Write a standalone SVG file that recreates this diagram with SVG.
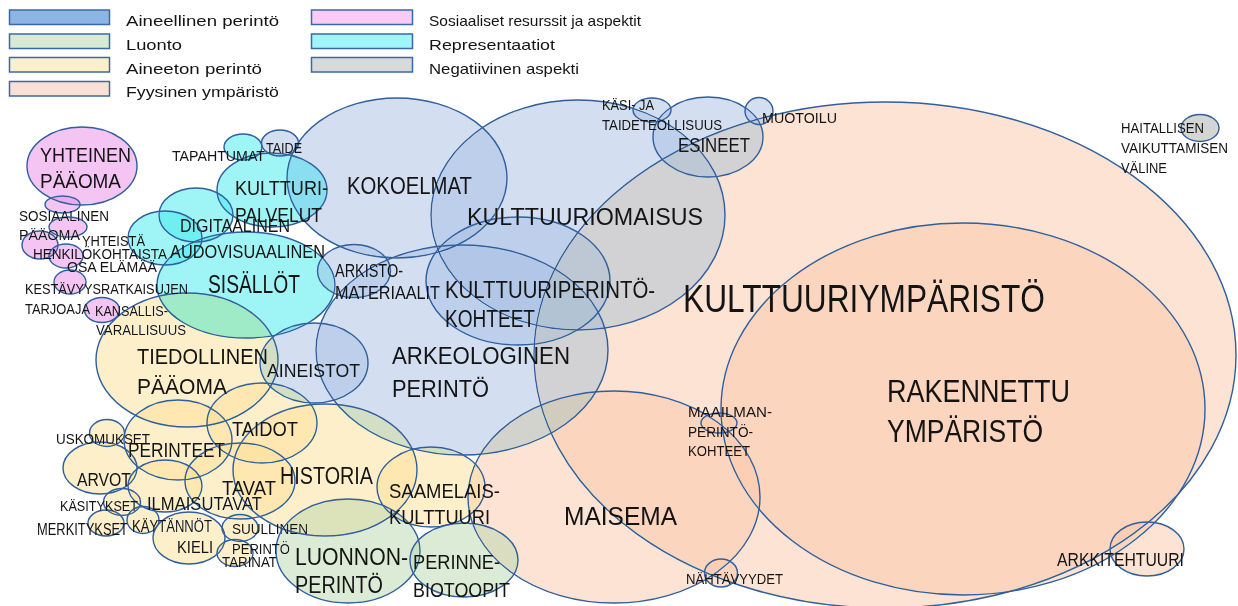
<svg xmlns="http://www.w3.org/2000/svg" width="1238" height="606" viewBox="0 0 1238 606">
<style>
.e{stroke:#2f5f9c;stroke-width:1.4;fill-opacity:0.5;mix-blend-mode:darken}
.pe{fill:#fbc7a9}.bl{fill:#a7bfe3}.cy{fill:#3fe9ed}.pk{fill:#e989e7}.ye{fill:#fddf97}.gr{fill:#b9d7ab}.gy{fill:#ababab}
text{font-family:"Liberation Sans Narrow","Liberation Sans",Arial,sans-serif;fill:#141414}
.lg{stroke:#3a6aa6;stroke-width:1.5}
</style>
<rect x="0" y="0" width="1238" height="606" fill="#ffffff"/>
<g id="legend">
<rect class="lg" x="9.5" y="10" width="100" height="14.5" fill="#8db4e2"/>
<rect class="lg" x="9.5" y="34" width="100" height="14.5" fill="#d9ead3"/>
<rect class="lg" x="9.5" y="57.5" width="100" height="14.5" fill="#fdf0c9"/>
<rect class="lg" x="9.5" y="81.5" width="100" height="14.5" fill="#fce1d2"/>
<rect class="lg" x="311.5" y="10" width="101" height="14.5" fill="#f9cbf6"/>
<rect class="lg" x="311.5" y="34" width="101" height="14.5" fill="#9ff5f7"/>
<rect class="lg" x="311.5" y="57.5" width="101" height="14.5" fill="#d9d9d9"/>
<text x="126" y="26" font-size="15" textLength="153" lengthAdjust="spacingAndGlyphs">Aineellinen perintö</text>
<text x="126" y="50" font-size="15" textLength="56" lengthAdjust="spacingAndGlyphs">Luonto</text>
<text x="126" y="73.5" font-size="15" textLength="136" lengthAdjust="spacingAndGlyphs">Aineeton perintö</text>
<text x="126" y="97" font-size="15" textLength="153" lengthAdjust="spacingAndGlyphs">Fyysinen ympäristö</text>
<text x="429" y="26" font-size="15" textLength="212" lengthAdjust="spacingAndGlyphs">Sosiaaliset resurssit ja aspektit</text>
<text x="429" y="50" font-size="15" textLength="126" lengthAdjust="spacingAndGlyphs">Representaatiot</text>
<text x="429" y="73.5" font-size="15" textLength="150" lengthAdjust="spacingAndGlyphs">Negatiivinen aspekti</text>
</g>
<g id="n-kulttuuriymparisto">
<ellipse class="e pe" cx="885" cy="355" rx="351" ry="253"/>
<text x="683" y="312" font-size="39" textLength="362" lengthAdjust="spacingAndGlyphs">KULTTUURIYMPÄRISTÖ</text>
</g>
<g id="n-rakennettu">
<ellipse class="e pe" cx="963" cy="409" rx="242" ry="186"/>
<text x="887" y="402" font-size="31" textLength="183" lengthAdjust="spacingAndGlyphs">RAKENNETTU</text>
<text x="887" y="442" font-size="31" textLength="156" lengthAdjust="spacingAndGlyphs">YMPÄRISTÖ</text>
</g>
<g id="n-kulttuuriomaisuus">
<ellipse class="e bl" cx="578" cy="215" rx="147" ry="115"/>
<text x="467" y="225" font-size="24.5" textLength="236" lengthAdjust="spacingAndGlyphs">KULTTUURIOMAISUS</text>
</g>
<g id="n-kokoelmat">
<ellipse class="e bl" cx="397" cy="178" rx="110" ry="80"/>
<text x="347" y="194" font-size="23.5" textLength="125" lengthAdjust="spacingAndGlyphs">KOKOELMAT</text>
</g>
<g id="n-arkeologinen">
<ellipse class="e bl" cx="462" cy="350" rx="146" ry="105"/>
<text x="392" y="364" font-size="23.5" textLength="178" lengthAdjust="spacingAndGlyphs">ARKEOLOGINEN</text>
<text x="392" y="397" font-size="23.5" textLength="97" lengthAdjust="spacingAndGlyphs">PERINTÖ</text>
</g>
<g id="n-kulttuuriperintokohteet">
<ellipse class="e bl" cx="518" cy="281" rx="92" ry="64"/>
<text x="445" y="298" font-size="23" textLength="210" lengthAdjust="spacingAndGlyphs">KULTTUURIPERINTÖ-</text>
<text x="445" y="327" font-size="23" textLength="90" lengthAdjust="spacingAndGlyphs">KOHTEET</text>
</g>
<g id="n-esineet">
<ellipse class="e bl" cx="708" cy="137" rx="55" ry="40"/>
<text x="678" y="152" font-size="21" textLength="72" lengthAdjust="spacingAndGlyphs">ESINEET</text>
</g>
<g id="n-kasi-ja-taideteollisuus">
<ellipse class="e bl" cx="652" cy="110" rx="19" ry="12"/>
<text x="602" y="110" font-size="14" textLength="52" lengthAdjust="spacingAndGlyphs">KÄSI- JA</text>
<text x="602" y="130" font-size="14" textLength="120" lengthAdjust="spacingAndGlyphs">TAIDETEOLLISUUS</text>
</g>
<g id="n-muotoilu">
<ellipse class="e bl" cx="759" cy="111" rx="14" ry="13.5"/>
<text x="762" y="123" font-size="14.5" textLength="75" lengthAdjust="spacingAndGlyphs">MUOTOILU</text>
</g>
<g id="n-aineistot">
<ellipse class="e bl" cx="314" cy="363" rx="54" ry="40"/>
<text x="267" y="377" font-size="19" textLength="93" lengthAdjust="spacingAndGlyphs">AINEISTOT</text>
</g>
<g id="n-maisema">
<ellipse class="e pe" cx="614" cy="497" rx="146" ry="106"/>
<text x="564" y="525" font-size="25" textLength="113" lengthAdjust="spacingAndGlyphs">MAISEMA</text>
</g>
<g id="n-maailmanperintokohteet">
<ellipse class="e pe" cx="719" cy="423" rx="18" ry="10"/>
<text x="688" y="417" font-size="15.5" textLength="84" lengthAdjust="spacingAndGlyphs">MAAILMAN-</text>
<text x="688" y="437" font-size="15.5" textLength="65" lengthAdjust="spacingAndGlyphs">PERINTÖ-</text>
<text x="688" y="456" font-size="15.5" textLength="62" lengthAdjust="spacingAndGlyphs">KOHTEET</text>
</g>
<g id="n-nahtavyydet">
<ellipse class="e pe" cx="721" cy="573" rx="16.5" ry="14"/>
<text x="686" y="584" font-size="15.5" textLength="97" lengthAdjust="spacingAndGlyphs">NÄHTÄVYYDET</text>
</g>
<g id="n-arkkitehtuuri">
<ellipse class="e pe" cx="1147" cy="549" rx="37" ry="27"/>
<text x="1057" y="566" font-size="18" textLength="127" lengthAdjust="spacingAndGlyphs">ARKKITEHTUURI</text>
</g>
<g id="n-sisallot">
<ellipse class="e cy" cx="246" cy="285" rx="89" ry="53"/>
<text x="208" y="293" font-size="25" textLength="92" lengthAdjust="spacingAndGlyphs">SISÄLLÖT</text>
</g>
<g id="n-kulttuuripalvelut">
<ellipse class="e cy" cx="272" cy="190" rx="55" ry="37"/>
<text x="235" y="195" font-size="21" textLength="93" lengthAdjust="spacingAndGlyphs">KULTTURI-</text>
<text x="235" y="222" font-size="21" textLength="87" lengthAdjust="spacingAndGlyphs">PALVELUT</text>
</g>
<g id="n-digitaalinen">
<ellipse class="e cy" cx="196" cy="215" rx="37" ry="27"/>
<text x="180" y="232" font-size="18" textLength="110" lengthAdjust="spacingAndGlyphs">DIGITAALINEN</text>
</g>
<g id="n-audovisuaalinen">
<ellipse class="e cy" cx="165" cy="238" rx="37" ry="27"/>
<text x="170" y="258" font-size="18" textLength="155" lengthAdjust="spacingAndGlyphs">AUDOVISUAALINEN</text>
</g>
<g id="n-tapahtumat">
<ellipse class="e cy" cx="243" cy="147" rx="19" ry="13"/>
<text x="172" y="161" font-size="14.5" textLength="93" lengthAdjust="spacingAndGlyphs">TAPAHTUMAT</text>
</g>
<g id="n-taide">
<ellipse class="e bl" cx="280" cy="143" rx="18.5" ry="13"/>
<text x="266" y="153" font-size="14.5" textLength="36" lengthAdjust="spacingAndGlyphs">TAIDE</text>
</g>
<g id="n-arkistomateriaalit">
<ellipse class="e bl" cx="354" cy="271" rx="36.5" ry="26.5"/>
<text x="335" y="277" font-size="17.5" textLength="68" lengthAdjust="spacingAndGlyphs">ARKISTO-</text>
<text x="335" y="299" font-size="17.5" textLength="105" lengthAdjust="spacingAndGlyphs">MATERIAALIT</text>
</g>
<g id="n-yhteinen-paaoma">
<ellipse class="e pk" cx="82" cy="166" rx="55" ry="39"/>
<text x="40" y="162" font-size="21" textLength="91" lengthAdjust="spacingAndGlyphs">YHTEINEN</text>
<text x="40" y="188" font-size="21" textLength="81" lengthAdjust="spacingAndGlyphs">PÄÄOMA</text>
</g>
<g id="n-sosiaalinen-paaoma">
<ellipse class="e pk" cx="62.5" cy="204.5" rx="17.5" ry="8.5"/>
<text x="19" y="220.5" font-size="14" textLength="90" lengthAdjust="spacingAndGlyphs">SOSIAALINEN</text>
<text x="19" y="240" font-size="14" textLength="61" lengthAdjust="spacingAndGlyphs">PÄÄOMA</text>
</g>
<g id="n-yhteista">
<ellipse class="e pk" cx="68" cy="227" rx="19" ry="10"/>
<text x="82" y="245.5" font-size="14" textLength="63" lengthAdjust="spacingAndGlyphs">YHTEISTÄ</text>
</g>
<g id="n-henkilokohtaista">
<ellipse class="e pk" cx="40" cy="245" rx="18" ry="14"/>
<ellipse class="e pk" cx="66" cy="256" rx="17" ry="12"/>
<text x="33" y="259" font-size="14" textLength="134" lengthAdjust="spacingAndGlyphs">HENKILÖKOHTAISTA</text>
<text x="67" y="272" font-size="14" textLength="90" lengthAdjust="spacingAndGlyphs">OSA ELÄMÄÄ</text>
</g>
<g id="n-kestavyysratkaisujen">
<ellipse class="e pk" cx="70" cy="282" rx="16" ry="12"/>
<text x="25" y="294" font-size="14" textLength="163" lengthAdjust="spacingAndGlyphs">KESTÄVYYSRATKAISUJEN</text>
<text x="25" y="313.5" font-size="14" textLength="65" lengthAdjust="spacingAndGlyphs">TARJOAJA</text>
</g>
<g id="n-kansallisvarallisuus">
<ellipse class="e pk" cx="102" cy="310" rx="17.5" ry="12.5"/>
<text x="95" y="316" font-size="14" textLength="73" lengthAdjust="spacingAndGlyphs">KANSALLIS-</text>
<text x="96" y="335" font-size="14" textLength="90" lengthAdjust="spacingAndGlyphs">VARALLISUUS</text>
</g>
<g id="n-tiedollinen-paaoma">
<ellipse class="e ye" cx="187" cy="360" rx="91" ry="67"/>
<text x="137" y="364" font-size="22.5" textLength="131" lengthAdjust="spacingAndGlyphs">TIEDOLLINEN</text>
<text x="137" y="394" font-size="22.5" textLength="90" lengthAdjust="spacingAndGlyphs">PÄÄOMA</text>
</g>
<g id="n-taidot">
<ellipse class="e ye" cx="262" cy="423" rx="55" ry="40"/>
<text x="232" y="436" font-size="20" textLength="66" lengthAdjust="spacingAndGlyphs">TAIDOT</text>
</g>
<g id="n-perinteet">
<ellipse class="e ye" cx="178" cy="440" rx="54" ry="40"/>
<text x="128" y="457" font-size="20" textLength="97" lengthAdjust="spacingAndGlyphs">PERINTEET</text>
</g>
<g id="n-uskomukset">
<ellipse class="e ye" cx="107" cy="433" rx="17.5" ry="13.5"/>
<text x="56" y="444" font-size="15" textLength="94" lengthAdjust="spacingAndGlyphs">USKOMUKSET</text>
</g>
<g id="n-arvot">
<ellipse class="e ye" cx="100" cy="468" rx="37" ry="26"/>
<text x="77" y="486" font-size="18.5" textLength="54" lengthAdjust="spacingAndGlyphs">ARVOT</text>
</g>
<g id="n-ilmaisutavat">
<ellipse class="e ye" cx="165" cy="486" rx="37" ry="26"/>
<text x="147" y="510" font-size="18" textLength="115" lengthAdjust="spacingAndGlyphs">ILMAISUTAVAT</text>
</g>
<g id="n-tavat">
<ellipse class="e ye" cx="240" cy="481" rx="55" ry="38"/>
<text x="222" y="495" font-size="21" textLength="54" lengthAdjust="spacingAndGlyphs">TAVAT</text>
</g>
<g id="n-kasitykset">
<ellipse class="e ye" cx="122" cy="502" rx="18.5" ry="13.5"/>
<text x="60" y="511" font-size="15" textLength="78" lengthAdjust="spacingAndGlyphs">KÄSITYKSET</text>
</g>
<g id="n-merkitykset">
<ellipse class="e ye" cx="106" cy="523" rx="18" ry="13"/>
<text x="37" y="535" font-size="16" textLength="91" lengthAdjust="spacingAndGlyphs">MERKITYKSET</text>
</g>
<g id="n-kaytannot">
<ellipse class="e ye" cx="143" cy="520" rx="16" ry="13.5"/>
<text x="132" y="532" font-size="16" textLength="80" lengthAdjust="spacingAndGlyphs">KÄYTÄNNÖT</text>
</g>
<g id="n-kieli">
<ellipse class="e ye" cx="189" cy="538" rx="36" ry="26"/>
<text x="177" y="553" font-size="17" textLength="36" lengthAdjust="spacingAndGlyphs">KIELI</text>
</g>
<g id="n-suullinen">
<ellipse class="e ye" cx="240" cy="528" rx="18" ry="13.5"/>
<text x="232" y="534" font-size="15.5" textLength="76" lengthAdjust="spacingAndGlyphs">SUULLINEN</text>
</g>
<g id="n-perinto-tarinat">
<ellipse class="e ye" cx="235" cy="553" rx="18" ry="13.5"/>
<text x="232" y="554" font-size="15" textLength="58" lengthAdjust="spacingAndGlyphs">PERINTÖ</text>
<text x="222" y="567" font-size="14.5" textLength="55" lengthAdjust="spacingAndGlyphs">TARINAT</text>
</g>
<g id="n-historia">
<ellipse class="e ye" cx="325" cy="470" rx="92" ry="66"/>
<text x="280" y="484" font-size="23.5" textLength="93" lengthAdjust="spacingAndGlyphs">HISTORIA</text>
</g>
<g id="n-saamelaiskulttuuri">
<ellipse class="e ye" cx="431" cy="487" rx="54" ry="40"/>
<text x="389" y="498" font-size="20" textLength="111" lengthAdjust="spacingAndGlyphs">SAAMELAIS-</text>
<text x="389" y="524" font-size="20" textLength="101" lengthAdjust="spacingAndGlyphs">KULTTUURI</text>
</g>
<g id="n-luonnonperinto">
<ellipse class="e gr" cx="348" cy="551" rx="72" ry="52"/>
<text x="295" y="565" font-size="23.5" textLength="113" lengthAdjust="spacingAndGlyphs">LUONNON-</text>
<text x="295" y="593" font-size="23.5" textLength="88" lengthAdjust="spacingAndGlyphs">PERINTÖ</text>
</g>
<g id="n-perinnebiotoopit">
<ellipse class="e gr" cx="464" cy="560" rx="54" ry="37"/>
<text x="413" y="569" font-size="20" textLength="87" lengthAdjust="spacingAndGlyphs">PERINNE-</text>
<text x="413" y="597" font-size="20" textLength="97" lengthAdjust="spacingAndGlyphs">BIOTOOPIT</text>
</g>
<g id="n-haitallisen-vaikuttamisen-valine">
<ellipse class="e gy" cx="1200" cy="128" rx="19" ry="13.5"/>
<text x="1121" y="133" font-size="15" textLength="83" lengthAdjust="spacingAndGlyphs">HAITALLISEN</text>
<text x="1121" y="153" font-size="15" textLength="107" lengthAdjust="spacingAndGlyphs">VAIKUTTAMISEN</text>
<text x="1121" y="173" font-size="15" textLength="46" lengthAdjust="spacingAndGlyphs">VÄLINE</text>
</g>
<g id="connectors"></g>
</svg>
